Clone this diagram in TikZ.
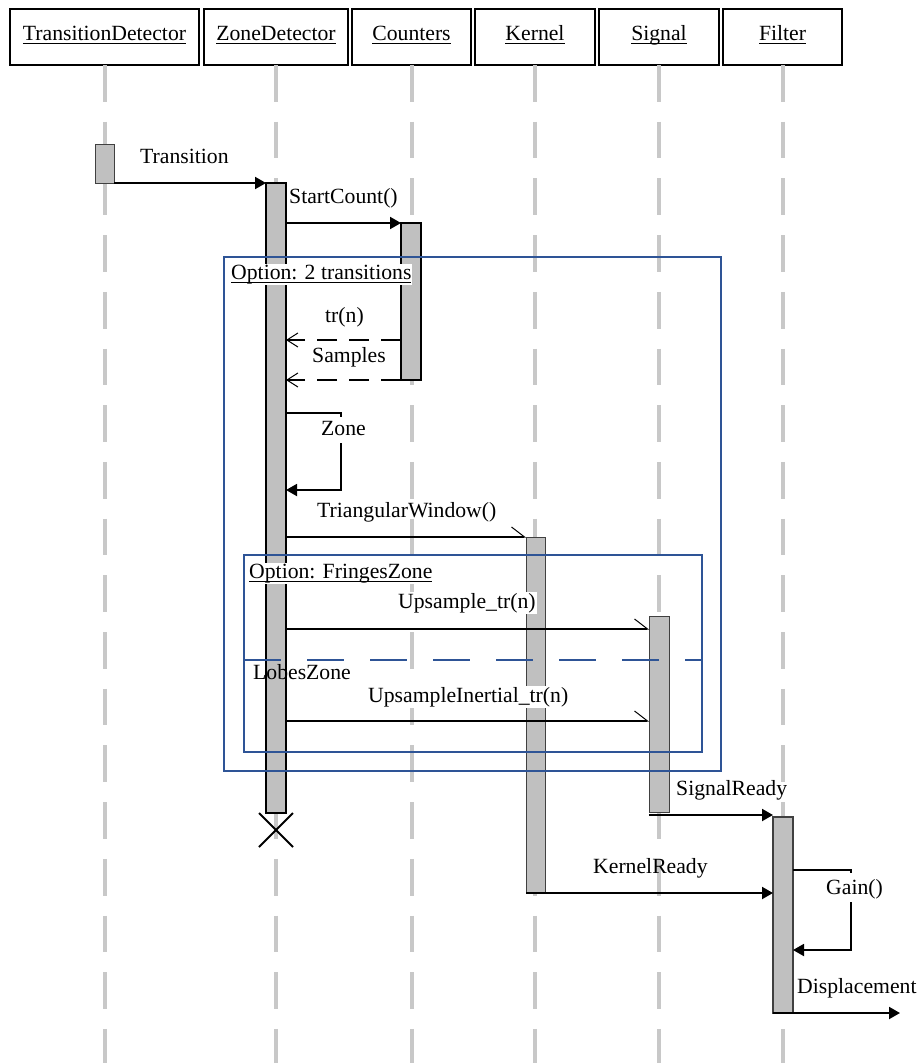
\documentclass[tikz,border=0pt]{standalone}
\usepackage{fontspec}
\setmainfont{Liberation Serif}
\usetikzlibrary{arrows.meta,shapes.misc}
\definecolor{lifegray}{RGB}{200,200,200}
\definecolor{barfill}{RGB}{192,192,192}
\definecolor{frameblue}{RGB}{46,84,150}
\newcommand\ulx[1]{\setbox0=\hbox{#1}\rlap{\rule[-0.17em]{\wd0}{0.05em}}\box0}
\begin{document}
\begin{tikzpicture}[x=1pt,y=-1pt,
  every node/.style={font=\fontsize{21.7}{26}\selectfont},
  head/.style={draw, line width=2pt, minimum height=56pt, inner sep=0pt, outer sep=0pt,
    text height=0.95em, text depth=0.2em, anchor=north},
  lifeline/.style={draw=lifegray, line width=4pt, dash pattern=on 36.7pt off 20pt},
  actbar/.style={draw=black!75, fill=barfill, line width=1pt, minimum width=20pt,
    inner sep=0pt, outer sep=0pt, anchor=north},
  frame/.style={draw=frameblue, line width=2pt, inner sep=0pt, outer sep=0pt, anchor=north west},
  msg/.style={line width=2pt, -{Triangle[length=11pt,width=12pt]}},
  reply/.style={line width=2.2pt, dash pattern=on 20pt off 12pt,
    -{Straight Barb[length=11pt,width=14pt,line width=1pt]}},
  async/.style={line width=1.6pt, -{Straight Barb[harpoon,length=13pt,width=20pt,line width=1pt]}},
  selfline/.style={line width=1.8pt},
  lbl/.style={anchor=base west, inner sep=0pt},
  wlbl/.style={anchor=base west, inner sep=1pt, fill=white},
]
\useasboundingbox (0,0) rectangle (919,1063);
\coordinate (bottom) at (0,1063);

% heads
\node[head, minimum width=189pt] (td) at (104.5,9) {\ulx{TransitionDetector}};
\node[head, minimum width=144pt] (zd) at (276,9) {\ulx{ZoneDetector}};
\node[head, minimum width=119pt] (co) at (411.5,9) {\ulx{Counters}};
\node[head, minimum width=120pt] (ke) at (535,9) {\ulx{Kernel}};
\node[head, minimum width=120pt] (si) at (659,9) {\ulx{Signal}};
\node[head, minimum width=119pt] (fi) at (782.5,9) {\ulx{Filter}};

% lifelines
\foreach \h in {td,zd,co,ke,si,fi}
  \draw[lifeline] (\h.south) -- (\h.south |- bottom);

% activation bars
\node[actbar, minimum width=19pt, minimum height=39pt] (tdbar) at (104.5,144) {};
\node[actbar, draw=black, line width=2.5pt, minimum height=630pt] (zdbar) at (276,183) {};
\node[actbar, draw=black, line width=2pt, minimum height=157pt] (cbar) at (411,223) {};
\node[actbar, minimum width=19pt, minimum height=355pt] (kbar) at (535.5,537) {};
\node[actbar, minimum height=196pt] (sbar) at (659,616) {};
\node[actbar, line width=1.2pt, minimum height=196pt] (fbar) at (783,817) {};

% destroy
\node[draw, cross out, line width=2pt, minimum size=32pt, inner sep=0pt] (destroy) at (276,830) {};

% LobesZone label
\node[lbl] (lobes) at (253,679) {LobesZone};

% frames
\node[frame, minimum width=497pt, minimum height=514pt] (opt1) at (224,257) {};
\node[frame, minimum width=458pt, minimum height=197pt] (opt2) at (244,555) {};
\coordinate (sepy) at (0,660);
\draw[draw=frameblue, line width=2.5pt, dash pattern=on 37pt off 26pt]
  (opt2.west |- sepy) -- (opt2.east |- sepy);

% message y-levels
\coordinate (m3) at (0,340);
\coordinate (m4) at (0,380);
\coordinate (m6) at (0,537);
\coordinate (m7) at (0,629);
\coordinate (m8) at (0,721);
\coordinate (m9) at (0,815);
\coordinate (m10) at (0,893);

% messages
\draw[msg] (tdbar.south east) -- (zdbar.north west);
\draw[msg] (zdbar.east |- cbar.north) -- (cbar.north west);
\draw[reply] (cbar.west |- m3) -- (zdbar.east |- m3);
\draw[reply] (cbar.south west) -- (zdbar.east |- m4);

% Zone self message
\coordinate (z1) at (341,413);
\coordinate (z2) at (341,417);
\coordinate (z3) at (341,443);
\coordinate (z4) at (341,490);
\draw[selfline] (zdbar.east |- z1) -- (z1) -- (z2);
\draw[selfline, -{Triangle[length=11pt,width=12pt]}] (z3) -- (z4) -- (zdbar.east |- z4);

\draw[async] (zdbar.east |- m6) -- (kbar.north west);
\draw[async] (zdbar.east |- m7) -- (sbar.west |- m7);
\draw[async] (zdbar.east |- m8) -- (sbar.west |- m8);

\draw[msg] (sbar.west |- m9) -- (fbar.west |- m9);
\draw[msg] (kbar.west |- m10) -- (fbar.west |- m10);

% Gain self message
\coordinate (g1) at (851,870);
\coordinate (g2) at (851,873);
\coordinate (g3) at (851,902);
\coordinate (g4) at (851,950);
\draw[selfline] (fbar.east |- g1) -- (g1) -- (g2);
\draw[selfline, -{Triangle[length=11pt,width=12pt]}] (g3) -- (g4) -- (fbar.east |- g4);

% Displacement
\coordinate (dispend) at (900,1013);
\draw[msg] (fbar.south west) -- (dispend);

% labels
\node[lbl] (lt) at (140,163) {Transition};
\node[lbl] (lsc) at (289,203) {StartCount()};
\node[wlbl] (lopt1) at (230,279) {\ulx{Option: 2 transitions}};
\node[lbl] (ltr) at (325,322) {tr(n)};
\node[lbl] (lsa) at (312,362) {Samples};
\node[lbl] (lzo) at (321,435) {Zone};
\node[lbl] (ltw) at (317,517) {TriangularWindow()};
\node[wlbl] (lopt2) at (248,578) {\ulx{Option: FringesZone}};
\node[wlbl] (lup) at (397,608) {Upsample\_tr(n)};
\node[wlbl] (lupi) at (367,702) {UpsampleInertial\_tr(n)};
\node[lbl] (lsr) at (676,795) {SignalReady};
\node[lbl] (lkr) at (593,873) {KernelReady};
\node[lbl] (lga) at (826,894) {Gain()};
\node[lbl] (ldi) at (797,993) {Displacement};
\end{tikzpicture}
\end{document}
